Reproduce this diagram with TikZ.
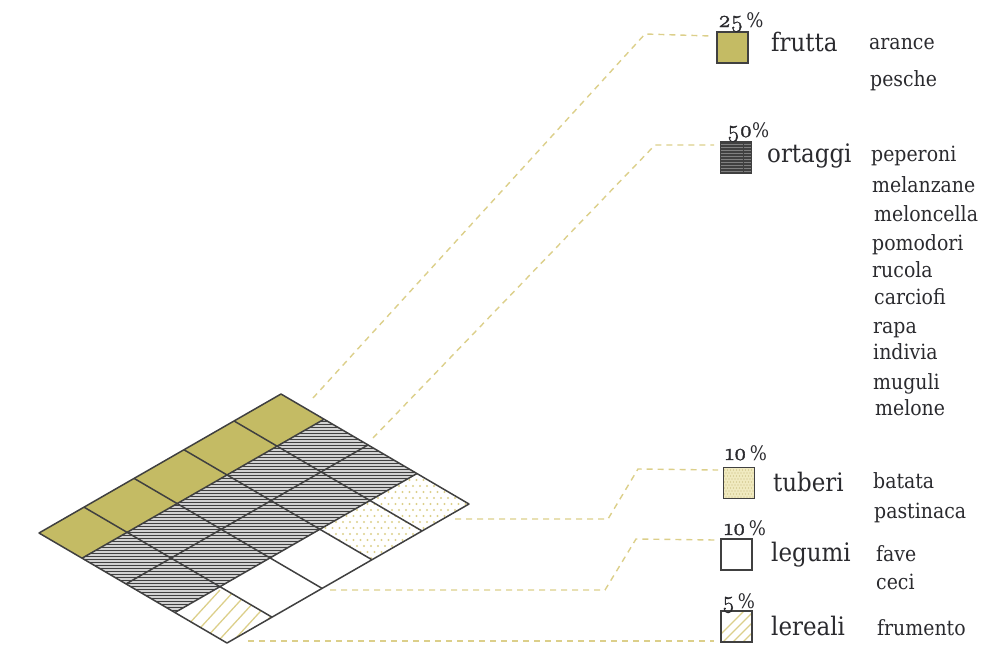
\documentclass[tikz,border=0pt]{standalone}
\usepackage{fontspec}
\setmainfont{DejaVu Serif Condensed}
\newfontfamily\oldfig[Numbers=OldStyle,FakeBold=1.5]{Latin Modern Roman}
\newcommand{\ofg}[1]{{\fontsize{24}{24}\oldfig #1}}
\definecolor{olive}{HTML}{C4BB64}
\definecolor{leader}{HTML}{DCCF8A}
\definecolor{ink}{HTML}{2A2A2E}
\definecolor{edge}{HTML}{404040}
\definecolor{paleyel}{HTML}{F0EAC0}
\tikzset{
  x=1pt,y=-1pt,
  leaderline/.style={draw=leader,line width=1.4pt,dash pattern=on 6pt off 5pt},
  gridline/.style={draw=edge,line width=1.5pt,line join=round},
  swatch/.style={draw=edge,line width=1.5pt,minimum width=31pt,minimum height=31pt,inner sep=0pt,outer sep=0pt},
  item/.style={anchor=base west,inner sep=0pt,yshift=-1pt,text=ink,font=\fontsize{21}{24}\selectfont},
  cat/.style={anchor=base west,inner sep=0pt,yshift=-1pt,text=ink,font=\fontsize{25.5}{28}\selectfont},
  pct/.style={anchor=base west,inner sep=0pt,text=ink,font=\fontsize{20}{24}\selectfont},
}
\newcommand{\stripes}[4]{\foreach \yy in {#1,#2,...,#3}{\draw[edge,line width=#4] (0,\yy) -- (1006,\yy);}}
\begin{document}
\begin{tikzpicture}
\useasboundingbox (0,0) rectangle (1006,651);
% grid points
\foreach \i/\u in {0/0,1/.186,2/.393,3/.599,4/.806,5/1}{
  \foreach \j/\v in {0/0,1/.229,2/.463,3/.723,4/1}{
    \coordinate (p\i\j) at ({39+\u*242+\v*188},{533-\u*139+\v*110});
  }
}
% fruit band
\fill[olive] (p00)--(p50)--(p51)--(p01)--cycle;
% vegetables
\begin{scope}
  \clip (p01)--(p51)--(p53)--(p03)--cycle;
  \fill[gray!35] (p01)--(p51)--(p53)--(p03)--cycle;
  \stripes{418}{421}{616}{1pt}
\end{scope}
% tubers
\begin{scope}
  \clip (p33)--(p53)--(p54)--(p34)--cycle;
  \foreach \yy in {0,...,14}{
    \foreach \xx in {0,...,22}{
      \fill[leader] ({322+\xx*7+mod(\yy,2)*3.5},{474+\yy*6}) circle (1.2pt);
    }
  }
\end{scope}
% cereals
\begin{scope}
  \clip (p03)--(p13)--(p14)--(p04)--cycle;
  \foreach \xx in {0,...,9}{
    \draw[leader,line width=1.3pt] ({165+\xx*15},650) -- ({165+\xx*15+55},590);
  }
\end{scope}
% grid lines
\draw[gridline] (p00)--(p50)--(p54)--(p04)--cycle;
\foreach \j in {1,2,3}{\draw[gridline] (p0\j)--(p5\j);}
\foreach \i in {1,2,3,4}{\draw[gridline] (p\i0)--(p\i4);}
% swatches
\node[swatch,fill=olive] (sfrutta) at (732.5,47.5) {};
\node[swatch,fill=gray] (sortaggi) at (736,157.5) {};
\begin{scope}
  \clip (sortaggi.south west) rectangle (sortaggi.north east);
  \stripes{143}{146}{173}{1.2pt}
  \draw[edge,line width=.7pt] (743,142) -- (743,173);
\end{scope}
\node[swatch,fill=paleyel] (stuberi) at (739,483) {};
\begin{scope}
  \clip (stuberi.south west) rectangle (stuberi.north east);
  \foreach \yy in {0,...,10}{
    \foreach \xx in {0,...,10}{
      \fill[leader!90!black] ({723+\xx*3+mod(\yy,2)*1.5},{467+\yy*3}) circle (.6pt);
    }
  }
\end{scope}
\node[swatch,fill=white] (slegumi) at (736.5,554.5) {};
\node[swatch,fill=white] (slereali) at (736.5,626.5) {};
\begin{scope}
  \clip (slereali.south west) rectangle (slereali.north east);
  \foreach \xx in {0,...,6}{
    \draw[leader,line width=1.2pt] ({705+\xx*10},650) -- ({705+\xx*10+45},605);
  }
\end{scope}
\node[swatch] at (slereali.center) {};
\node[swatch] at (sortaggi.center) {};
\node[swatch] at (stuberi.center) {};
% leader lines
\coordinate (a1) at (313,398); \coordinate (a2) at (645,34); \coordinate (a3) at (711,36);
\coordinate (b1) at (373,438); \coordinate (b2) at (655,145); \coordinate (b3) at (714,145);
\coordinate (c1) at (455,519); \coordinate (c2) at (608,519); \coordinate (c3) at (638,469); \coordinate (c4) at (718,470);
\coordinate (d1) at (330,590); \coordinate (d2) at (605,590); \coordinate (d3) at (636,539); \coordinate (d4) at (715,540);
\coordinate (e1) at (248,641); \coordinate (e2) at (714,641);
\draw[leaderline] (a1)--(a2)--(a3);
\draw[leaderline] (b1)--(b2)--(b3);
\draw[leaderline] (c1)--(c2)--(c3)--(c4);
\draw[leaderline] (d1)--(d2)--(d3)--(d4);
\draw[leaderline] (e1)--(e2);
% percentages
\node[pct] (p1) at (718,27) {\ofg{25}\,\%};
\node[pct] (p2) at (727,137) {\ofg{50}\%};
\node[pct] (p3) at (725,460) {\ofg{10}\,\%};
\node[pct] (p4) at (724,535) {\ofg{10}\,\%};
\node[pct] (p5) at (722,608) {\ofg{5}\,\%};
% categories
\node[cat] (c1t) at (771,50) {frutta};
\node[cat] (c2t) at (767,161) {ortaggi};
\node[cat] (c3t) at (773,490) {tuberi};
\node[cat] (c4t) at (771,560) {legumi};
\node[cat] (c5t) at (771,634) {lereali};
% items
\node[item] (i1) at (869,48) {arance};
\node[item] (i2) at (870,85) {pesche};
\node[item] (i3) at (871,160) {peperoni};
\node[item] (i4) at (872,191) {melanzane};
\node[item] (i5) at (874,220) {meloncella};
\node[item] (i6) at (872,249) {pomodori};
\node[item] (i7) at (872,276) {rucola};
\node[item] (i8) at (874,303) {carciofi};
\node[item] (i9) at (873,332) {rapa};
\node[item] (i10) at (873,358) {indivia};
\node[item] (i11) at (873,388) {muguli};
\node[item] (i12) at (875,414) {melone};
\node[item] (i13) at (873,487) {batata};
\node[item] (i14) at (874,517) {pastinaca};
\node[item] (i15) at (876,560) {fave};
\node[item] (i16) at (876,588) {ceci};
\node[item] (i17) at (877,634) {frumento};
\end{tikzpicture}
\end{document}
